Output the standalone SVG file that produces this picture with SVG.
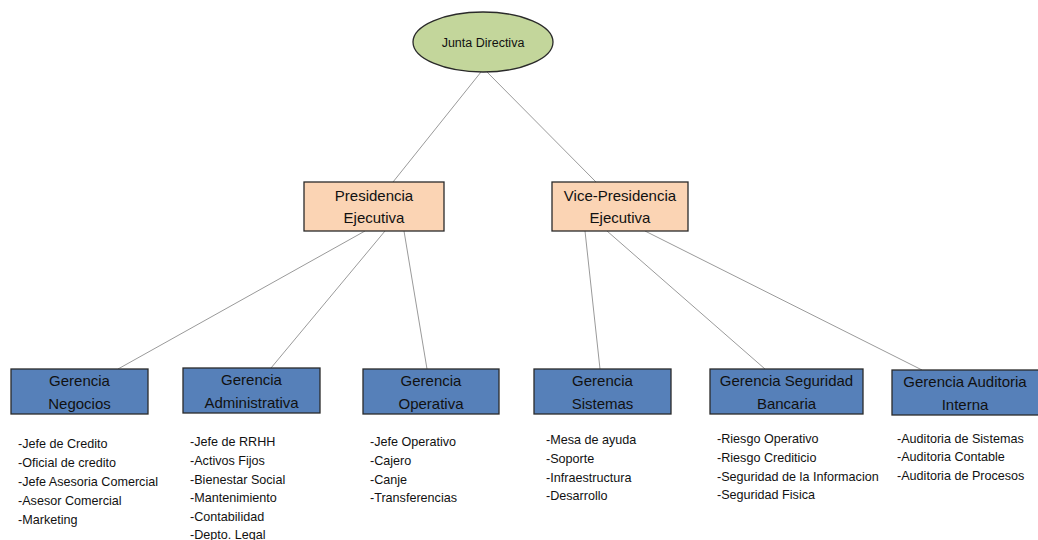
<svg xmlns="http://www.w3.org/2000/svg" width="1038" height="540" viewBox="0 0 1038 540">
<style>
text{font-family:"Liberation Sans",Arial,sans-serif;fill:#111}
.lbl{font-size:15px;text-anchor:middle}
.lst{font-size:12.6px}
.blue{fill:#5680b9;stroke:#2a2a2a;stroke-width:1.3}
.org{fill:#fbd4b4;stroke:#2a2a2a;stroke-width:1.3}
.conn line{stroke:#9a9a9a;stroke-width:1}
</style>
<rect width="1038" height="540" fill="#fff"/>
<g class="conn" id="connectors">
<line x1="481" y1="72" x2="393" y2="182"/>
<line x1="487" y1="72" x2="596" y2="182"/>
<line x1="365" y1="231" x2="118" y2="369"/>
<line x1="385" y1="231" x2="271" y2="368"/>
<line x1="404" y1="231" x2="427" y2="369"/>
<line x1="585" y1="231" x2="600" y2="369"/>
<line x1="607" y1="231" x2="765" y2="369"/>
<line x1="645" y1="231" x2="922" y2="370"/>
</g>
<g id="junta">
<ellipse cx="483" cy="42" rx="70" ry="30" fill="#c3d69b" stroke="#2a2a2a" stroke-width="1.3"/>
<text x="483" y="47" style="font-size:12.5px;text-anchor:middle">Junta Directiva</text>
</g>
<g id="presidencia">
<rect class="org" x="304" y="182" width="140" height="49"/>
<text class="lbl" x="374" y="201">Presidencia</text>
<text class="lbl" x="374" y="223">Ejecutiva</text>
</g>
<g id="vicepresidencia">
<rect class="org" x="552" y="182" width="136" height="49"/>
<text class="lbl" x="620" y="201">Vice-Presidencia</text>
<text class="lbl" x="620" y="223">Ejecutiva</text>
</g>
<g id="negocios">
<rect class="blue" x="11" y="369" width="137" height="45"/>
<text class="lbl" x="79.5" y="386">Gerencia</text>
<text class="lbl" x="79.5" y="409">Negocios</text>
<text class="lst" x="18" y="448">-Jefe de Credito</text>
<text class="lst" x="18" y="467">-Oficial de credito</text>
<text class="lst" x="18" y="486">-Jefe Asesoria Comercial</text>
<text class="lst" x="18" y="505">-Asesor Comercial</text>
<text class="lst" x="18" y="524">-Marketing</text>
</g>
<g id="administrativa">
<rect class="blue" x="183" y="368" width="137" height="45"/>
<text class="lbl" x="251.5" y="385">Gerencia</text>
<text class="lbl" x="251.5" y="408">Administrativa</text>
<text class="lst" x="190" y="446">-Jefe de RRHH</text>
<text class="lst" x="190" y="465">-Activos Fijos</text>
<text class="lst" x="190" y="484">-Bienestar Social</text>
<text class="lst" x="190" y="502">-Mantenimiento</text>
<text class="lst" x="190" y="521">-Contabilidad</text>
<text class="lst" x="190" y="539">-Depto. Legal</text>
</g>
<g id="operativa">
<rect class="blue" x="363" y="369" width="136" height="45"/>
<text class="lbl" x="431" y="386">Gerencia</text>
<text class="lbl" x="431" y="409">Operativa</text>
<text class="lst" x="370" y="446">-Jefe Operativo</text>
<text class="lst" x="370" y="465">-Cajero</text>
<text class="lst" x="370" y="484">-Canje</text>
<text class="lst" x="370" y="502">-Transferencias</text>
</g>
<g id="sistemas">
<rect class="blue" x="534" y="369" width="137" height="45"/>
<text class="lbl" x="602.5" y="386">Gerencia</text>
<text class="lbl" x="602.5" y="409">Sistemas</text>
<text class="lst" x="546" y="444">-Mesa de ayuda</text>
<text class="lst" x="546" y="463">-Soporte</text>
<text class="lst" x="546" y="482">-Infraestructura</text>
<text class="lst" x="546" y="500">-Desarrollo</text>
</g>
<g id="seguridad">
<rect class="blue" x="710" y="369" width="153" height="45"/>
<text class="lbl" x="786.5" y="386">Gerencia Seguridad</text>
<text class="lbl" x="786.5" y="409">Bancaria</text>
<text class="lst" x="717" y="443">-Riesgo Operativo</text>
<text class="lst" x="717" y="462">-Riesgo Crediticio</text>
<text class="lst" x="717" y="481">-Seguridad de la Informacion</text>
<text class="lst" x="717" y="499">-Seguridad Fisica</text>
</g>
<g id="auditoria">
<rect class="blue" x="892" y="370" width="147" height="45"/>
<text class="lbl" x="965" y="387">Gerencia Auditoria</text>
<text class="lbl" x="965" y="410">Interna</text>
<text class="lst" x="897" y="443">-Auditoria de Sistemas</text>
<text class="lst" x="897" y="461">-Auditoria Contable</text>
<text class="lst" x="897" y="480">-Auditoria de Procesos</text>
</g>
</svg>
